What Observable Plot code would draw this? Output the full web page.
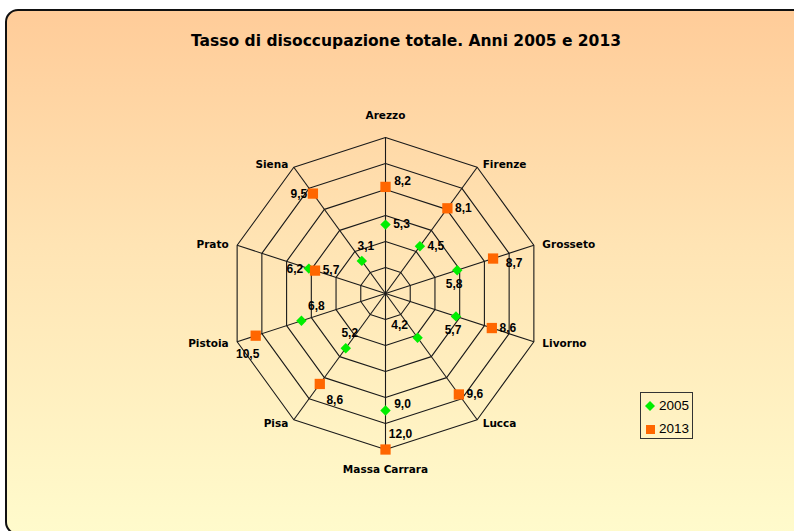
<!DOCTYPE html>
<html>
<head>
<meta charset="utf-8">
<script src="https://cdn.jsdelivr.net/npm/d3@7"></script>
<script src="https://cdn.jsdelivr.net/npm/@observablehq/plot@0.6"></script>
<style>
  html, body { margin: 0; padding: 0; background: #fff; }
  #chart { position: relative; width: 794px; height: 531px; overflow: hidden; background: #fff; }
  #frame { position: absolute; left: 5px; top: 9px; width: 800px; height: 522px;
           border: 2px solid #111; border-radius: 13px;
           background: linear-gradient(to bottom, #FFCC99 0%, #FFE4B4 45%, #FFFBCC 100%); }
  #title { position: absolute; left: 0; width: 812px; top: 32px; text-align: center;
           font-family: "DejaVu Sans", sans-serif; font-weight: bold; font-size: 15.5px; color: #000; }
  #plot { position: absolute; left: 0; top: 0; }
  #legend { position: absolute; left: 640px; top: 392px; width: 51px; height: 45px;
            border: 1px solid #333; font-family: "Liberation Sans", Arial, sans-serif; font-size: 13.5px; }
  .item { position: absolute; left: 0; display: flex; align-items: center; }
  .item span { margin-left: 3px; }
</style>
</head>
<body>
<div id="chart">
  <div id="frame"></div>
  <div id="title">Tasso di disoccupazione totale. Anni 2005 e 2013</div>
  <div id="plot"></div>
  <div id="legend"></div>
</div>
<script>
// ---- data ----
const categories = ["Arezzo", "Firenze", "Grosseto", "Livorno", "Lucca", "Massa Carrara", "Pisa", "Pistoia", "Prato", "Siena"];
const values2005 = [5.3, 4.5, 5.8, 5.7, 4.2, 9.0, 5.2, 6.8, 6.2, 3.1];
const values2013 = [8.2, 8.1, 8.7, 8.6, 9.6, 12.0, 8.6, 10.5, 5.7, 9.5];
const seriesNames = ["2005", "2013"];
const ringLevels = [2, 4, 6, 8, 10, 12];
// label placement names per point (layout only)
const labelPos2005 = ["r", "r", "b", "b", "tl", "ur", "t", "tr", "l", "t"];
const labelPos2013 = ["ur", "r", "rd", "r", "r", "tr", "br", "bl", "r", "l"];

// ---- layout ----
const W = 794, H = 531, CX = 385, CY = 293, K = 13; // px per unit
const maxV = d3.max(ringLevels);
const offsets = {r: [16, 0], l: [-14, 1], b: [-3, 14], t: [4, -15], tr: [15, -15], ur: [17, -6],
                 rd: [21, 5], br: [15, 16], bl: [-8, 18], tl: [-18, -13]};
const n = categories.length;
const ang = i => i * 2 * Math.PI / n;
const px = (i, v) => v * Math.sin(ang(i));
const py = (i, v) => v * Math.cos(ang(i));
const fmt = v => v.toFixed(1).replace(".", ",");

const rings = ringLevels.flatMap(lv => d3.range(n + 1).map(i => ({lv, x: px(i % n, lv), y: py(i % n, lv)})));
const spokes = categories.map((c, i) => ({x: px(i, maxV), y: py(i, maxV)}));

const points = (vals, pos, s) => vals.map((v, i) => {
  const [dx, dy] = offsets[pos[i]];
  return {s, cat: categories[i], v, x: px(i, v), y: py(i, v), lx: px(i, v) + dx / K, ly: py(i, v) - dy / K, label: fmt(v)};
});
const p2005 = points(values2005, labelPos2005, seriesNames[0]);
const p2013 = points(values2013, labelPos2013, seriesNames[1]);

const catLabels = categories.map((c, i) => {
  const s = Math.sin(ang(i)), co = Math.cos(ang(i));
  let anchor, dx = 0, dy;
  if (Math.abs(s) < 0.01) { anchor = "middle"; dy = co > 0 ? -22 : 20; }
  else { anchor = s > 0 ? "start" : "end"; dx = (Math.abs(s) < 0.7 ? 5.5 : 8.5) * Math.sign(s); dy = -4.2 * co + 0.5; }
  return {c, anchor, x: px(i, maxV) + dx / K, y: py(i, maxV) - dy / K};
});

const labelFont = {fontFamily: "'DejaVu Sans', sans-serif", fontWeight: "bold", fontSize: 10.5, fill: "#000"};
const valueFont = {fontFamily: "'Liberation Sans', Arial, sans-serif", fontWeight: "bold", fontSize: 12, fill: "#000"};

const plot = Plot.plot({
  width: W, height: H, margin: 0,
  style: {background: "transparent", overflow: "visible"},
  x: {domain: [-CX / K, (W - CX) / K], range: [0, W], axis: null},
  y: {domain: [-(H - CY) / K, CY / K], range: [H, 0], axis: null},
  marks: [
    Plot.line(rings, {x: "x", y: "y", z: "lv", stroke: "#1a1a1a", strokeWidth: 1.1}),
    Plot.link(spokes, {x1: 0, y1: 0, x2: "x", y2: "y", stroke: "#1a1a1a", strokeWidth: 1.1}),
    ...["middle", "start", "end"].map(a =>
      Plot.text(catLabels.filter(d => d.anchor === a), {x: "x", y: "y", text: "c", textAnchor: a, lineAnchor: "middle", ...labelFont})),
    Plot.dot(p2005, {x: "x", y: "y", symbol: "diamond2", r: 4.7, fill: "#00EE00", stroke: "none"}),
    Plot.dot(p2013, {x: "x", y: "y", symbol: "square", r: 5.8, fill: "#FF6600", stroke: "none"}),
    Plot.text(p2005, {x: "lx", y: "ly", text: "label", textAnchor: "middle", lineAnchor: "middle", ...valueFont}),
    Plot.text(p2013, {x: "lx", y: "ly", text: "label", textAnchor: "middle", lineAnchor: "middle", ...valueFont})
  ]
});
document.getElementById("plot").appendChild(plot);

// legend
const legend = document.getElementById("legend");
const legendItems = [
  {name: seriesNames[0], shape: `<svg width="12" height="12"><path d="M6,1L11,6L6,11L1,6Z" fill="#00EE00"/></svg>`, top: 5},
  {name: seriesNames[1], shape: `<svg width="12" height="12"><rect x="2" y="2" width="9" height="9" fill="#FF6600"/></svg>`, top: 28}
];
legendItems.forEach(it => {
  const d = document.createElement("div");
  d.className = "item";
  d.style.top = it.top + "px";
  d.style.left = "3px";
  d.innerHTML = it.shape + `<span>${it.name}</span>`;
  legend.appendChild(d);
});
</script>
</body>
</html>
